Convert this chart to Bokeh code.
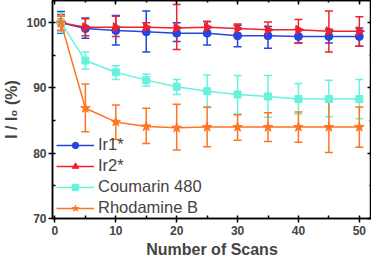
from bokeh.plotting import figure
from bokeh.models import (ColumnDataSource, Whisker, LinearAxis, Range1d, Legend, LegendItem,
                          TeeHead, SingleIntervalTicker, CustomJSTickFormatter)
from bokeh.embed import file_html
from bokeh.resources import INLINE

scans = [1, 5, 10, 15, 20, 25, 30, 35, 40, 45, 50]

ir1 = [100.0, 99.1, 98.8, 98.6, 98.4, 98.4, 98.0, 98.0, 97.9, 97.9, 97.9]
ir1_up = [101.7, 100.7, 101.1, 101.8, 100.0, 100.2, 99.6, 99.4, 99.0, 99.0, 99.2]
ir1_lo = [98.4, 97.6, 96.6, 95.5, 97.1, 96.6, 96.3, 96.1, 96.9, 96.9, 96.4]

ir2 = [100.0, 99.3, 99.3, 99.3, 99.2, 99.3, 99.1, 98.9, 98.9, 98.7, 98.7]
ir2_up = [101.2, 100.6, 101.0, 100.0, 102.8, 100.2, 99.8, 100.1, 100.5, 101.8, 100.9]
ir2_lo = [98.8, 98.0, 97.9, 98.6, 95.9, 98.2, 98.3, 98.0, 96.9, 95.5, 96.4]

cou = [100.0, 94.2, 92.4, 91.2, 90.2, 89.5, 89.0, 88.7, 88.3, 88.3, 88.3]
cou_up = [101.5, 95.5, 93.4, 92.1, 91.3, 92.0, 91.9, 91.9, 90.7, 91.2, 91.3]
cou_lo = [98.5, 92.9, 91.3, 90.3, 89.0, 87.0, 86.0, 85.5, 86.0, 85.6, 85.3]

rho = [100.0, 86.9, 84.8, 84.1, 83.9, 84.0, 84.0, 84.0, 84.0, 84.0, 84.0]
rho_up = [101.0, 90.6, 87.4, 86.9, 87.5, 87.1, 85.9, 86.2, 86.3, 87.9, 87.1]
rho_lo = [98.8, 83.3, 82.1, 81.5, 80.5, 81.0, 82.0, 81.8, 81.7, 80.1, 80.9]

names = ["Ir1*", "Ir2*", "Coumarin 480", "Rhodamine B"]
colors = ["#2546e0", "#f0202c", "#66f2dc", "#ff7420"]
markers = ["circle", "triangle", "square", "star"]
angles = [0.0, -1.5708, 0.0, 0.0]
sizes = [8, 9, 7, 10]

p = figure(width=371, height=260, output_backend="svg", toolbar_location=None,
           x_range=Range1d(-0.4, 52), y_range=Range1d(70, 103.4),
           min_border_left=0, min_border_right=0, min_border_top=0, min_border_bottom=0)
p.grid.visible = False
p.outline_line_color = "black"
p.outline_line_width = 1.5
p.background_fill_color = "white"

items = []
series = [(ir1, ir1_up, ir1_lo), (ir2, ir2_up, ir2_lo), (cou, cou_up, cou_lo), (rho, rho_up, rho_lo)]
for (y, up, lo), name, c, m, a, s in zip(series, names, colors, markers, angles, sizes):
    src = ColumnDataSource(dict(x=scans, y=y, up=up, lo=lo, ang=[a] * len(scans)))
    w = Whisker(source=src, base="x", upper="up", lower="lo", line_color=c, line_width=1.5,
                upper_head=TeeHead(size=8, line_color=c, line_width=1.5),
                lower_head=TeeHead(size=8, line_color=c, line_width=1.5))
    p.add_layout(w)
    r1 = p.line("x", "y", source=src, line_color=c, line_width=1.5)
    r2 = p.scatter("x", "y", source=src, marker=m, angle="ang", size=s, fill_color=c, line_color=c)
    items.append(LegendItem(label=name, renderers=[r1, r2]))

legend = Legend(items=items, location=(3, 0), background_fill_alpha=0, border_line_alpha=0,
                label_text_font="Liberation Sans", label_text_font_size="16.5px",
                glyph_width=38, glyph_height=16, spacing=2, label_standoff=4, padding=1,
                label_height=16)
p.add_layout(legend)

for ax in (p.xaxis[0], p.yaxis[0]):
    ax.ticker = SingleIntervalTicker(interval=10, num_minor_ticks=2)
    ax.major_label_text_font = "Liberation Sans"
    ax.major_label_text_font_style = "bold"
    ax.major_label_text_font_size = "12px"
    ax.axis_label_text_font = "Liberation Sans"
    ax.axis_label_text_font_style = "bold"
    ax.axis_label_text_font_size = "16px"
    ax.axis_line_width = 1.5
    ax.major_tick_line_width = 1.5
    ax.minor_tick_line_width = 1.5
    ax.major_tick_out = 4
    ax.major_tick_in = 0
    ax.minor_tick_out = 0
    ax.minor_tick_in = 3

p.xaxis[0].axis_label = "Number of Scans"
p.yaxis[0].axis_label = "I / I\u2080 (%)"
p.xaxis[0].axis_label_standoff = 3
p.yaxis[0].axis_label_standoff = 3
p.xaxis[0].major_label_standoff = 3
p.yaxis[0].major_label_standoff = 2

for loc in ("right", "above"):
    ax = LinearAxis(ticker=SingleIntervalTicker(interval=10, num_minor_ticks=2),
                    formatter=CustomJSTickFormatter(code="return ''"),
                    axis_line_width=1.5,
                    major_tick_in=4, major_tick_out=0, minor_tick_in=2, minor_tick_out=0,
                    major_tick_line_width=1.5, minor_tick_line_width=1.5,
                    major_label_standoff=0, axis_label_standoff=0)
    p.add_layout(ax, loc)

open("out.html", "w").write(file_html(p, INLINE))
